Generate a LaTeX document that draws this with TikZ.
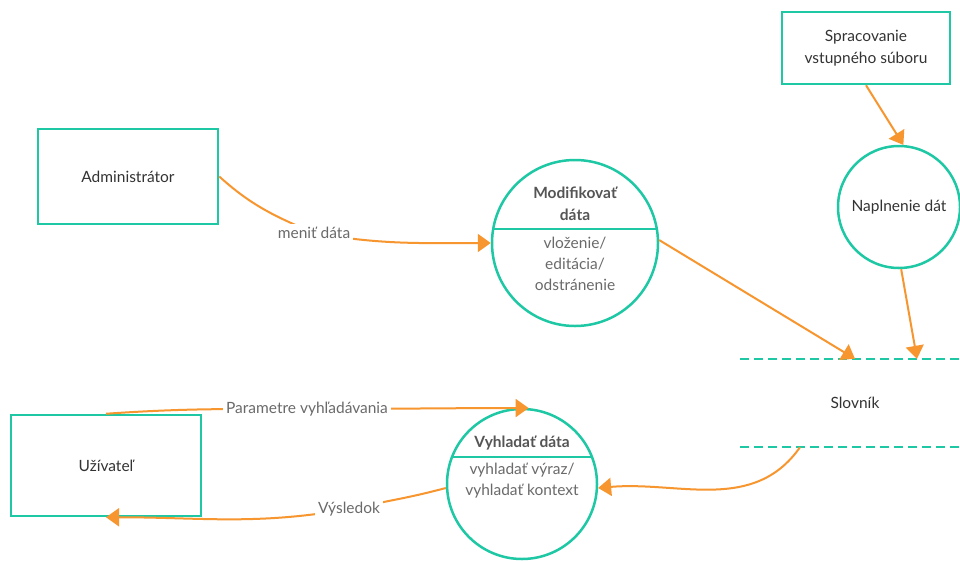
\documentclass[tikz,border=0pt]{standalone}
\usepackage{fontspec}
\setmainfont{Lato}
\usetikzlibrary{arrows.meta,calc}
\definecolor{entc}{HTML}{1EC8A5}
\definecolor{flowc}{HTML}{F7962F}
\definecolor{txtc}{HTML}{333333}
\definecolor{proctxt}{HTML}{555555}
\definecolor{lblc}{HTML}{6A6A6A}
\tikzset{
  basefont/.style={font=\fontsize{15.5}{22}\selectfont},
  entity/.style={draw=entc, line width=2.5pt, text=txtc, align=center, basefont, inner sep=0pt},
  proc/.style={circle, draw=entc, line width=2.5pt, inner sep=0pt, text=txtc, align=center, basefont},
  divider/.style={draw=entc, line width=2.5pt},
  ptitle/.style={text=proctxt, align=center, font=\fontsize{15.5}{22}\selectfont\bfseries},
  pbody/.style={text=lblc, align=center, font=\fontsize{15.5}{21}\selectfont},
  store/.style={rectangle, inner sep=0pt, minimum width=230pt, minimum height=88pt, text=txtc, basefont},
  storeline/.style={draw=entc, line width=2pt, dash pattern=on 9pt off 5pt},
  flowline/.style={draw=flowc, line width=2pt},
  flow/.style={flowline, -{Triangle[length=13pt,width=18pt]}},
  flowlbl/.style={fill=white, text=lblc, basefont, inner sep=3pt}
}
\begin{document}
\begin{tikzpicture}
\useasboundingbox[fill=white] (0,0) rectangle (960pt,-560pt);
\begin{scope}[x=1pt,y=1pt]
% external entities
\node[entity, minimum width=180pt, minimum height=95pt] (admin) at (128,-176.5) {Administrátor};
\node[entity, minimum width=168pt, minimum height=72pt] (spr) at (866,-48) {Spracovanie\\vstupného súboru};
\node[entity, minimum width=190pt, minimum height=101pt] (uz) at (106,-465.5) {Užívateľ};

% processes
\node[proc, minimum size=166pt] (mod) at (575,-243) {};
\draw[divider] ($(mod.center)+(-81.8,14)$) -- ($(mod.center)+(81.8,14)$);
\node[ptitle] (modtitle) at (575,-204) {Modifikovať\\dáta};
\node[pbody] (modbody) at (575,-264) {vloženie/\\editácia/\\odstránenie};

\node[proc, minimum size=122pt] (nap) at (899,-207) {Naplnenie dát};

\node[proc, minimum size=150pt] (vyh) at (522,-484) {};
\draw[divider] ($(vyh.center)+(-70,27)$) -- ($(vyh.center)+(70,27)$);
\node[ptitle] (vyhtitle) at (522,-443) {Vyhladať dáta};
\node[pbody] (vyhbody) at (522,-481) {vyhladať výraz/\\vyhladať kontext};

% data store
\node[store] (slov) at (855,-403) {Slovník};
\draw[storeline] (slov.north west) -- (slov.north east);
\draw[storeline] (slov.south west) -- (slov.south east);

% label anchors on the flows
\coordinate (m1) at (314,-233);
\coordinate (p1) at (307,-409);
\coordinate (r1) at (349,-509);

% data flows
\draw[flowline] (admin.east) to[out=-42,in=157] (m1);
\draw[flow] (m1) to[out=-10,in=180] (mod.west);
\node[flowlbl] (m1lbl) at (m1) {meniť dáta};

\draw[flow] (spr.south) -- (nap.86);
\draw[flow] (mod.2) -- (slov.north);
\draw[flow] (nap.-88) -- ([xshift=62pt]slov.north);
\draw[flow] ([xshift=-55pt]slov.south) to[out=-125,in=5] (vyh.-3);

\draw[flowline] (uz.north) to[out=4,in=180] (p1);
\draw[flow] (p1) to[out=0,in=180] (vyh.85);
\node[flowlbl] (p1lbl) at (p1) {Parametre vyhľadávania};

\draw[flowline] (vyh.183) to[out=195,in=12] (r1);
\draw[flow] (r1) to[out=190,in=0] (uz.south);
\node[flowlbl] (r1lbl) at (r1) {Výsledok};
\end{scope}
\end{tikzpicture}
\end{document}
